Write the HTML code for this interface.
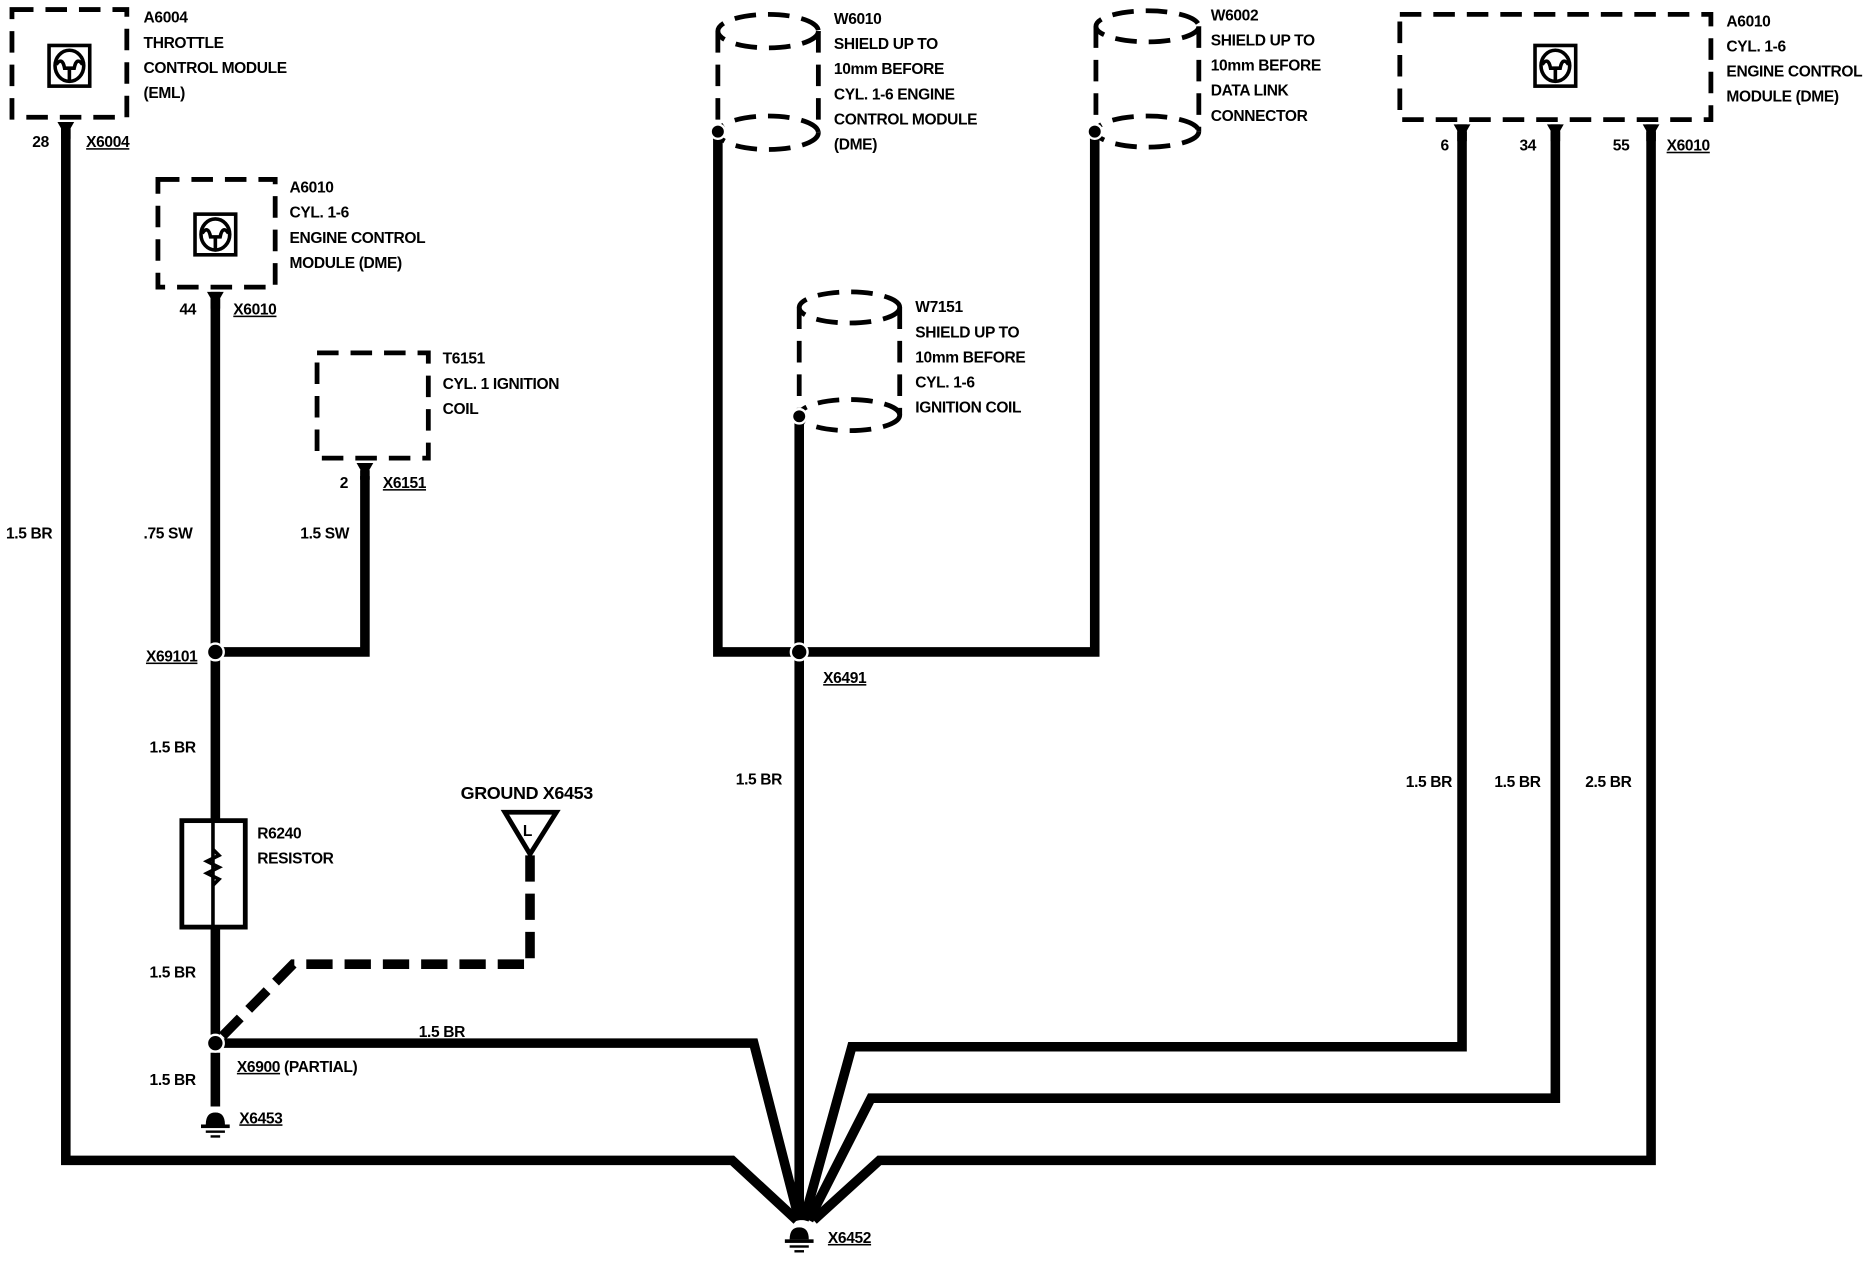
<!DOCTYPE html>
<html><head><meta charset="utf-8"><style>
html,body{margin:0;padding:0;background:#fff;}
svg{display:block}
text{font-family:"Liberation Sans",sans-serif;font-weight:bold;font-size:13px;fill:#000;letter-spacing:-0.3px}
</style></head><body>
<svg width="1876" height="1280" viewBox="0 0 1568 1070" preserveAspectRatio="none" xmlns="http://www.w3.org/2000/svg">
<defs>
<g id="icon">
<rect x="-17" y="-17" width="34" height="34" fill="none" stroke="#000" stroke-width="3"/>
<ellipse cx="0" cy="0" rx="12" ry="13" fill="none" stroke="#000" stroke-width="3"/>
<path d="M-11,-1 Q-6,-8 -4,2 L4,2 Q6,-8 11,-1 M0,2 L0,12" fill="none" stroke="#000" stroke-width="3"/>
</g>
<g id="pin"><path d="M-7,-10 L-3,-3 L3,-3 L7,-10 Z" fill="#000"/><rect x="-4" y="-4" width="8" height="8" fill="#000"/></g>
<g id="gnd"><path d="M-8,6 Q-8,-4 0,-4 Q8,-4 8,6 Z" fill="#000"/><rect x="-12" y="6" width="24" height="3" fill="#000"/><rect x="-8" y="11" width="16" height="2" fill="#000"/><rect x="-4" y="15" width="8" height="2" fill="#000"/></g>
</defs>
<g fill="none" stroke="#000" stroke-width="8" stroke-linejoin="miter">
<polyline points="55,102 55,970 612,970 666,1020"/>
<polyline points="180,244 180,865"/>
<polyline points="180,545 305,545 305,398"/>
<polyline points="180,880 180,925"/>
<polyline points="186,872 630,872 668,1020"/>
<polyline points="600,110 600,545 915,545 915,110"/>
<polyline points="668,348 668,1020"/>
<polyline points="1222,104 1222,875 712,875 672,1020"/>
<polyline points="1300,104 1300,918 728,918 676,1020"/>
<polyline points="1380,104 1380,970 735,970 680,1020"/>
</g>
<polyline points="443,715 443,806 245,806 186,866" fill="none" stroke="#000" stroke-width="8" stroke-dasharray="22,10"/>
<g fill="none" stroke="#000" stroke-width="4" stroke-dasharray="18,10">
<rect x="10" y="8" width="96" height="90"/>
<rect x="132" y="150" width="98" height="90"/>
<rect x="265" y="295" width="93" height="88"/>
<rect x="1170" y="12" width="260" height="88"/>
<ellipse cx="642" cy="26" rx="42" ry="14"/>
<ellipse cx="642" cy="111" rx="42" ry="14"/>
<line x1="600" y1="26" x2="600" y2="111"/><line x1="684" y1="26" x2="684" y2="111"/>
<ellipse cx="959" cy="22" rx="43" ry="13"/>
<ellipse cx="959" cy="110" rx="43" ry="13"/>
<line x1="916" y1="22" x2="916" y2="110"/><line x1="1002" y1="22" x2="1002" y2="110"/>
<ellipse cx="710" cy="257" rx="42" ry="13"/>
<ellipse cx="710" cy="347" rx="42" ry="13"/>
<line x1="668" y1="257" x2="668" y2="347"/><line x1="752" y1="257" x2="752" y2="347"/>
</g>
<use href="#icon" x="58" y="55"/>
<use href="#icon" x="180" y="196"/>
<use href="#icon" x="1300" y="55"/>
<use href="#pin" x="55" y="112"/>
<use href="#pin" x="180" y="254"/>
<use href="#pin" x="305" y="397"/>
<use href="#pin" x="1222" y="114"/>
<use href="#pin" x="1300" y="114"/>
<use href="#pin" x="1380" y="114"/>
<g fill="#000" stroke="#fff" stroke-width="2">
<circle cx="600" cy="110" r="6"/><circle cx="915" cy="110" r="6"/><circle cx="668" cy="348" r="6"/>
<circle cx="180" cy="545" r="7"/><circle cx="668" cy="545" r="7"/><circle cx="180" cy="872" r="7"/>
</g>
<rect x="152" y="686" width="53" height="89" fill="#fff" stroke="#000" stroke-width="4"/>
<line x1="178" y1="686" x2="178" y2="775" stroke="#000" stroke-width="3"/>
<polyline points="178,710 183,715 173,720 183,725 173,730 183,735 178,740" fill="none" stroke="#000" stroke-width="3"/>
<polygon points="422,679 465,679 443,714" fill="#fff" stroke="#000" stroke-width="4"/>
<text x="437" y="699">L</text>
<use href="#gnd" x="180" y="934"/>
<use href="#gnd" x="668" y="1030"/>
<text x="120" y="19">A6004</text><text x="120" y="40">THROTTLE</text><text x="120" y="61">CONTROL MODULE</text><text x="120" y="82">(EML)</text>
<text x="27" y="123">28</text><text x="72" y="123" text-decoration="underline">X6004</text>
<text x="5" y="450">1.5 BR</text>
<text x="242" y="161">A6010</text><text x="242" y="182">CYL. 1-6</text><text x="242" y="203">ENGINE CONTROL</text><text x="242" y="224">MODULE (DME)</text>
<text x="150" y="263">44</text><text x="195" y="263" text-decoration="underline">X6010</text>
<text x="370" y="304">T6151</text><text x="370" y="325">CYL. 1 IGNITION</text><text x="370" y="346">COIL</text>
<text x="284" y="408">2</text><text x="320" y="408" text-decoration="underline">X6151</text>
<text x="120" y="450">.75 SW</text><text x="251" y="450">1.5 SW</text>
<text x="122" y="553" text-decoration="underline">X69101</text>
<text x="125" y="629">1.5 BR</text>
<text x="215" y="701">R6240</text><text x="215" y="722">RESISTOR</text>
<text x="385" y="668" style="font-size:15px">GROUND X6453</text>
<text x="125" y="817">1.5 BR</text>
<text x="350" y="867">1.5 BR</text>
<text x="198" y="896"><tspan text-decoration="underline">X6900</tspan>  (PARTIAL)</text>
<text x="125" y="907">1.5 BR</text>
<text x="200" y="939" text-decoration="underline">X6453</text>
<text x="697" y="20">W6010</text><text x="697" y="41">SHIELD UP TO</text><text x="697" y="62">10mm BEFORE</text><text x="697" y="83">CYL. 1-6 ENGINE</text><text x="697" y="104">CONTROL MODULE</text><text x="697" y="125">(DME)</text>
<text x="1012" y="17">W6002</text><text x="1012" y="38">SHIELD UP TO</text><text x="1012" y="59">10mm BEFORE</text><text x="1012" y="80">DATA LINK</text><text x="1012" y="101">CONNECTOR</text>
<text x="765" y="261">W7151</text><text x="765" y="282">SHIELD UP TO</text><text x="765" y="303">10mm BEFORE</text><text x="765" y="324">CYL. 1-6</text><text x="765" y="345">IGNITION COIL</text>
<text x="688" y="571" text-decoration="underline">X6491</text>
<text x="615" y="656">1.5 BR</text>
<text x="1443" y="22">A6010</text><text x="1443" y="43">CYL. 1-6</text><text x="1443" y="64">ENGINE CONTROL</text><text x="1443" y="85">MODULE (DME)</text>
<text x="1204" y="126">6</text><text x="1270" y="126">34</text><text x="1348" y="126">55</text><text x="1393" y="126" text-decoration="underline">X6010</text>
<text x="1175" y="658">1.5 BR</text><text x="1249" y="658">1.5 BR</text><text x="1325" y="658">2.5 BR</text>
<text x="692" y="1039" text-decoration="underline">X6452</text>
</svg>
</body></html>
